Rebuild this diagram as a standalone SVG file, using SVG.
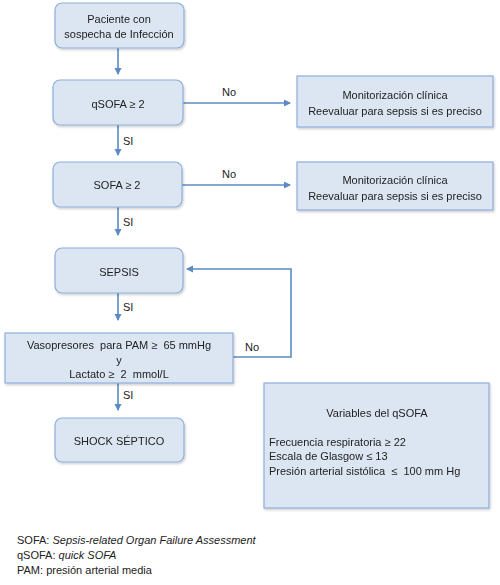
<svg xmlns="http://www.w3.org/2000/svg" width="500" height="585" viewBox="0 0 500 585">
<style>
text{font-family:"Liberation Sans",Arial,sans-serif;font-size:11px;fill:#222;white-space:pre}
.box{fill:#dce6f2;stroke:#8eaedb;stroke-width:1.2}
.c{text-anchor:middle}
.ln{fill:none;stroke:#5b8ac6;stroke-width:1.6}
.it{font-style:italic}
</style>
<defs>
<marker id="ah" markerWidth="8" markerHeight="8" refX="6" refY="4" orient="auto" markerUnits="userSpaceOnUse">
<path d="M0,0.5 L7,4 L0,7.5 Z" fill="#5b8ac6"/>
</marker>
<filter id="sh" x="-5%" y="-5%" width="115%" height="125%">
<feDropShadow dx="1" dy="1.5" stdDeviation="1" flood-color="#000" flood-opacity="0.2"/>
</filter>
</defs>
<g id="connectors">
<line class="ln" x1="118" y1="48" x2="118" y2="74" marker-end="url(#ah)"/>
<line class="ln" x1="183" y1="103" x2="290" y2="103" marker-end="url(#ah)"/>
<line class="ln" x1="118" y1="125" x2="118" y2="155" marker-end="url(#ah)"/>
<line class="ln" x1="182" y1="185" x2="290" y2="185" marker-end="url(#ah)"/>
<line class="ln" x1="118" y1="207" x2="118" y2="235" marker-end="url(#ah)"/>
<line class="ln" x1="118" y1="293" x2="118" y2="320" marker-end="url(#ah)"/>
<polyline class="ln" points="233,357 291,357 291,269 187,269" marker-end="url(#ah)"/>
<line class="ln" x1="118" y1="383" x2="118" y2="410" marker-end="url(#ah)"/>
<text x="222" y="96">No</text>
<text x="222" y="178">No</text>
<text x="123" y="145">SI</text>
<text x="123" y="226">SI</text>
<text x="123" y="311">SI</text>
<text x="245" y="351">No</text>
<text x="123" y="399">SI</text>
</g>
<g id="n1" filter="url(#sh)">
<rect class="box" x="55" y="3" width="129" height="45" rx="7"/>
<text class="c" x="119" y="23">Paciente con</text>
<text class="c" x="119" y="38">sospecha de Infección</text>
</g>
<g id="n2" filter="url(#sh)">
<rect class="box" x="53" y="80" width="130" height="45" rx="7"/>
<text class="c" x="118" y="108">qSOFA ≥ 2</text>
</g>
<g id="m1" filter="url(#sh)">
<rect class="box" x="297" y="76" width="196" height="51"/>
<text class="c" x="395" y="99">Monitorización clínica</text>
<text class="c" x="395" y="115">Reevaluar para sepsis si es preciso</text>
</g>
<g id="n3" filter="url(#sh)">
<rect class="box" x="53" y="162" width="129" height="45" rx="7"/>
<text class="c" x="117" y="189">SOFA ≥ 2</text>
</g>
<g id="m2" filter="url(#sh)">
<rect class="box" x="297" y="162" width="196" height="48"/>
<text class="c" x="395" y="184">Monitorización clínica</text>
<text class="c" x="395" y="200">Reevaluar para sepsis si es preciso</text>
</g>
<g id="n4" filter="url(#sh)">
<rect class="box" x="55" y="248" width="128" height="45" rx="7"/>
<text class="c" x="119" y="276">SEPSIS</text>
</g>
<g id="n5" filter="url(#sh)">
<rect class="box" x="5" y="333" width="228" height="50"/>
<text class="c" x="119" y="349">Vasopresores  para PAM ≥  65 mmHg</text>
<text class="c" x="119" y="364">y</text>
<text class="c" x="119" y="378">Lactato ≥  2  mmol/L</text>
</g>
<g id="n6" filter="url(#sh)">
<rect class="box" x="55" y="418" width="129" height="44" rx="7"/>
<text class="c" x="119" y="445">SHOCK SÉPTICO</text>
</g>
<g id="vars" filter="url(#sh)">
<rect class="box" x="264" y="383" width="225" height="125"/>
<text class="c" x="377" y="417">Variables del qSOFA</text>
<text x="269" y="446">Frecuencia respiratoria ≥ 22</text>
<text x="269" y="460">Escala de Glasgow ≤ 13</text>
<text x="269" y="475">Presión arterial sistólica  ≤  100 mm Hg</text>
</g>
<g id="legend">
<text x="17" y="544">SOFA: <tspan class="it">Sepsis-related Organ Failure Assessment</tspan></text>
<text x="17" y="559">qSOFA: <tspan class="it">quick SOFA</tspan></text>
<text x="17" y="574">PAM: presión arterial media</text>
</g>
</svg>
